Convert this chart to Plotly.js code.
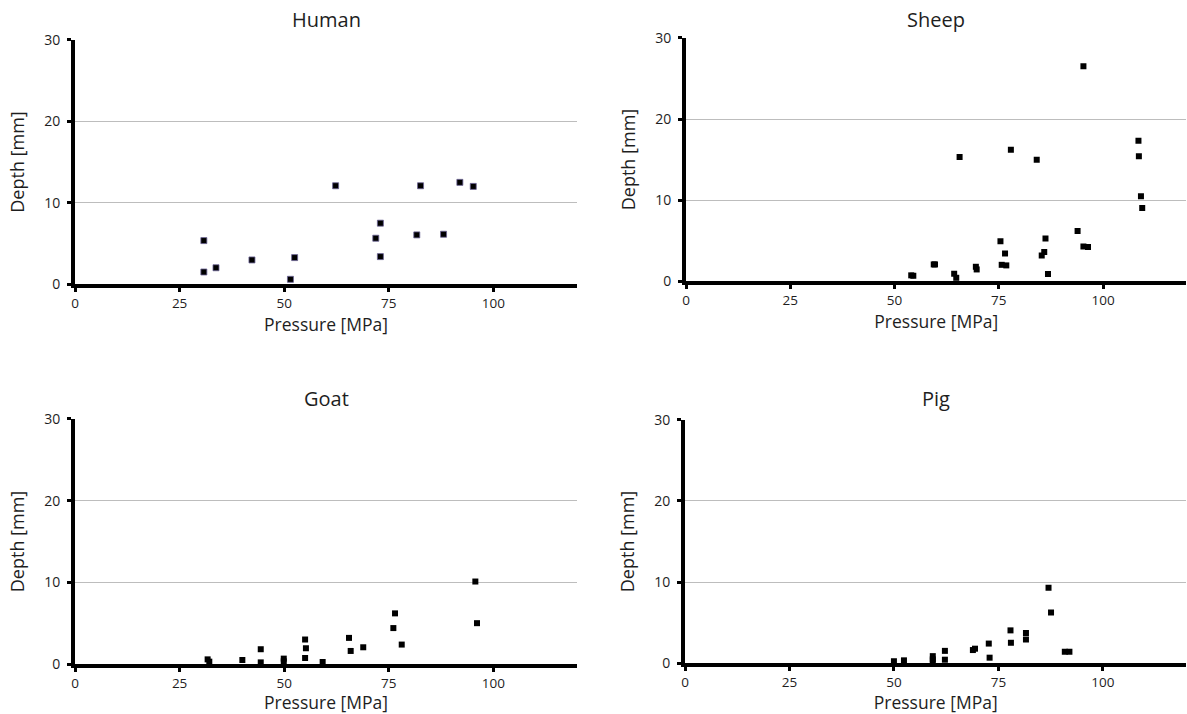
<!DOCTYPE html>
<html>
<head>
<meta charset="utf-8">
<script src="https://cdn.plot.ly/plotly-3.0.1.min.js"></script>
<style>html,body{margin:0;padding:0;background:#fff;}#chart{width:1187px;height:714px;}</style>
</head>
<body>
<div id="chart"></div>
<script>
// ---- Data ----
const panelTitles = ["Human", "Sheep", "Goat", "Pig"];
const xTickVals = [0, 25, 50, 75, 100];
const yTickVals = [0, 10, 20, 30];
const xAxisTitle = "Pressure [MPa]";
const yAxisTitle = "Depth [mm]";

const humanPressure = [30.8, 30.8, 33.7, 42.3, 51.5, 52.5, 62.3, 71.9, 73.0, 73.0, 81.7, 82.6, 88.1, 92.0, 95.2];
const humanDepth    = [5.34, 1.48, 2.0, 2.96, 0.58, 3.25, 12.08, 5.63, 7.48, 3.37, 6.04, 12.08, 6.12, 12.5, 12.0];

const sheepPressure = [54.0, 54.5, 59.4, 59.7, 64.3, 64.8, 65.6, 69.5, 69.7, 75.4, 76.5, 75.7, 76.8, 77.9, 84.1, 85.3, 85.9, 86.2, 86.8, 93.9, 95.3, 95.3, 96.4, 108.5, 108.6, 109.1, 109.4];
const sheepDepth    = [0.70, 0.65, 2.05, 2.05, 0.90, 0.40, 15.3, 1.76, 1.43, 4.92, 3.40, 2.00, 1.93, 16.2, 14.96, 3.16, 3.57, 5.25, 0.86, 6.19, 26.5, 4.26, 4.20, 17.3, 15.4, 10.45, 9.0];

const goatPressure = [31.7, 32.1, 40.0, 44.4, 44.4, 49.9, 49.9, 55.0, 55.2, 55.0, 59.2, 65.5, 65.9, 68.9, 76.1, 76.5, 78.1, 95.7, 96.1];
const goatDepth    = [0.57, 0.29, 0.49, 1.81, 0.20, 0.66, 0.33, 3.00, 1.93, 0.74, 0.25, 3.20, 1.60, 2.05, 4.40, 6.20, 2.38, 10.1, 5.0];

const pigPressure = [50.0, 52.4, 59.3, 59.3, 59.3, 62.2, 62.2, 68.9, 69.4, 72.7, 72.9, 77.9, 78.0, 81.6, 81.6, 87.0, 87.6, 90.9, 92.0];
const pigDepth    = [0.22, 0.33, 0.85, 0.45, 0.15, 1.50, 0.41, 1.60, 1.77, 2.40, 0.66, 4.03, 2.50, 3.70, 2.90, 9.3, 6.25, 1.40, 1.40];

const seriesX = [humanPressure, sheepPressure, goatPressure, pigPressure];
const seriesY = [humanDepth, sheepDepth, goatDepth, pigDepth];

// ---- Layout geometry ----
const W = 1187, H = 714;
const xDomains = [[0.0632, 0.4861], [0.578, 0.9995], [0.0632, 0.4861], [0.5771, 0.9995]];
const yDomains = [[0.6022, 0.944], [0.6064, 0.9468], [0.07, 0.4132], [0.0714, 0.4118]];

const FONT = '"Open Sans", "DejaVu Sans", sans-serif';
const textColor = '#1e1e1e';

const traces = [];
const layout = {
  width: W, height: H,
  margin: {l: 0, r: 0, t: 0, b: 0},
  paper_bgcolor: '#ffffff',
  plot_bgcolor: '#ffffff',
  showlegend: false,
  font: {family: FONT, color: textColor},
  annotations: []
};

for (let i = 0; i < 4; i++) {
  const n = i === 0 ? '' : String(i + 1);
  traces.push({
    type: 'scatter', mode: 'markers',
    x: seriesX[i], y: seriesY[i],
    xaxis: 'x' + n, yaxis: 'y' + n,
    marker: {symbol: 'square', size: 6, color: '#000000',
             line: {width: i === 0 ? 0.8 : 0, color: '#6a6294'}},
    hoverinfo: 'x+y'
  });
  layout['xaxis' + n] = {
    domain: xDomains[i], anchor: 'y' + n,
    range: [0, 120], tickvals: xTickVals, ticktext: xTickVals.map(String),
    showline: true, linewidth: 4, linecolor: '#000',
    ticks: 'outside', ticklen: 4, tickwidth: 3, tickcolor: '#000',
    showgrid: false, zeroline: false, automargin: false,
    tickfont: {family: FONT, size: 13.5, color: textColor},
    ticklabelstandoff: 0,
    title: {text: xAxisTitle, font: {family: FONT, size: 17.5, color: textColor}, standoff: 1},
    fixedrange: true
  };
  layout['yaxis' + n] = {
    domain: yDomains[i], anchor: 'x' + n,
    range: [0, 30], tickvals: yTickVals, ticktext: yTickVals.map(String),
    showline: true, linewidth: 4, linecolor: '#000',
    ticks: 'outside', ticklen: 4, tickwidth: 3, tickcolor: '#000',
    showgrid: true, gridcolor: '#bdbdbd', gridwidth: 1,
    zeroline: false, automargin: false,
    tickfont: {family: FONT, size: 14, color: textColor},
    ticklabelstandoff: 4,
    title: {text: yAxisTitle, font: {family: FONT, size: 18, color: textColor}, standoff: 16},
    fixedrange: true
  };
  const xd = xDomains[i];
  layout.annotations.push({
    text: panelTitles[i], showarrow: false,
    xref: 'paper', yref: 'paper',
    x: (xd[0] + xd[1]) / 2, y: i < 2 ? 1 - 19 / H : 1 - 398 / H,
    xanchor: 'center', yanchor: 'middle',
    font: {family: FONT, size: 20, color: textColor}
  });
}

Plotly.newPlot('chart', traces, layout, {staticPlot: true, displayModeBar: false});
</script>
</body>
</html>
